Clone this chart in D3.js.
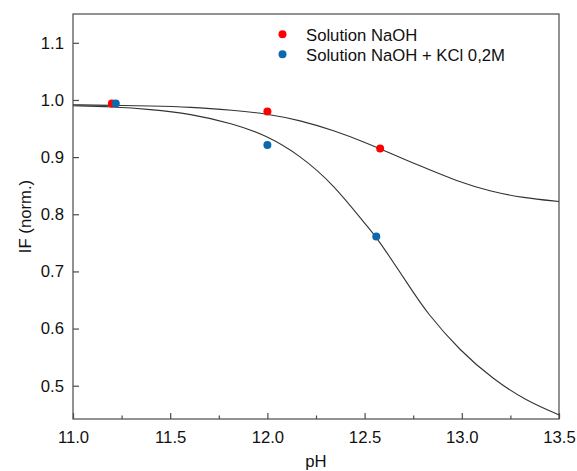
<!DOCTYPE html>
<html>
<head>
<meta charset="utf-8">
<script src="https://cdn.jsdelivr.net/npm/d3@7"></script>
<style>
  html, body { margin: 0; padding: 0; background: #fff; }
  svg { display: block; font-family: "Liberation Sans", Arial, sans-serif; }
</style>
</head>
<body>
<svg id="chart" width="577" height="471"></svg>
<script>
// Measured points
const naohPH = [11.2, 12.0, 12.58];
const naohIF = [0.994, 0.980, 0.915];
const kclPH = [11.22, 12.0, 12.56];
const kclIF = [0.994, 0.921, 0.761];

// Fitted curves
const fitNaohPH = [11.0, 11.2, 11.396, 11.602, 11.825, 11.996, 12.168, 12.339, 12.519, 12.574, 12.8, 12.974, 13.145, 13.316, 13.5];
const fitNaohIF = [0.9915, 0.9905, 0.9895, 0.9877, 0.982, 0.976, 0.9644, 0.947, 0.9235, 0.915, 0.8825, 0.858, 0.840, 0.8288, 0.8223];
const fitKclPH = [11.0, 11.2, 11.396, 11.602, 11.825, 11.996, 12.168, 12.339, 12.519, 12.56, 12.734, 12.819, 12.991, 13.162, 13.334, 13.5];
const fitKclIF = [0.990, 0.988, 0.9837, 0.976, 0.9586, 0.938, 0.903, 0.853, 0.776, 0.761, 0.672, 0.628, 0.561, 0.511, 0.473, 0.449];

const xTicks = [11.0, 11.5, 12.0, 12.5, 13.0, 13.5];
const xMinorTicks = [11.25, 11.75, 12.25, 12.75, 13.25];
const yTicks = [0.5, 0.6, 0.7, 0.8, 0.9, 1.0, 1.1];

const legendLabels = ["Solution NaOH", "Solution NaOH + KCl 0,2M"];
const colors = ["#ff0000", "#0b69ad"];

const svg = d3.select("#chart");
const L = 73, R = 559, T = 14, B = 419;
const x = d3.scaleLinear().domain([11.0, 13.5]).range([L, R]);
const y = d3.scaleLinear().domain([0.4418, 1.1504]).range([B, T]);

const axisColor = "#4a4a4a";

// frame
svg.append("rect").attr("x", L).attr("y", T).attr("width", R - L).attr("height", B - T)
  .attr("fill", "none").attr("stroke", axisColor).attr("stroke-width", 1.2);

// x axis ticks (inward)
const xg = svg.append("g").attr("transform", `translate(0,${B})`);
xg.call(d3.axisBottom(x).tickValues(xTicks).tickSize(-6).tickFormat(d3.format(".1f")).tickPadding(12));
const xm = svg.append("g").attr("transform", `translate(0,${B})`);
xm.call(d3.axisBottom(x).tickValues(xMinorTicks).tickSize(-3.5).tickFormat(""));
[xg, xm].forEach(g => {
  g.select(".domain").remove();
  g.selectAll("line").attr("stroke", axisColor).attr("stroke-width", 1.2);
});
xg.selectAll("text").attr("font-size", 16.7).attr("fill", "#111")
  .attr("font-family", "Liberation Sans, Arial, sans-serif");

// y axis ticks (inward)
const yg = svg.append("g").attr("transform", `translate(${L},0)`);
yg.call(d3.axisLeft(y).tickValues(yTicks).tickSize(-6).tickFormat(d3.format(".1f")).tickPadding(9));
yg.select(".domain").remove();
yg.selectAll("line").attr("stroke", axisColor).attr("stroke-width", 1.2);
yg.selectAll("text").attr("font-size", 16.7).attr("fill", "#111")
  .attr("font-family", "Liberation Sans, Arial, sans-serif");

// axis titles
svg.append("text").attr("x", (L + R) / 2).attr("y", 467).attr("text-anchor", "middle")
  .attr("font-size", 16.7).attr("fill", "#111").text("pH");
svg.append("text").attr("transform", `translate(31,${(T + B) / 2}) rotate(-90)`)
  .attr("text-anchor", "middle").attr("font-size", 16.7).attr("fill", "#111").text("IF (norm.)");

// fitted curves
const line = d3.line().x(d => x(d[0])).y(d => y(d[1])).curve(d3.curveBasis);
const fits = [
  d3.zip(fitNaohPH, fitNaohIF),
  d3.zip(fitKclPH, fitKclIF)
];
svg.append("g").selectAll("path").data(fits).join("path")
  .attr("d", line).attr("fill", "none").attr("stroke", "#333").attr("stroke-width", 1.1);

// points
const series = [d3.zip(naohPH, naohIF), d3.zip(kclPH, kclIF)];
series.forEach((s, i) => {
  svg.append("g").selectAll("circle").data(s).join("circle")
    .attr("cx", d => x(d[0])).attr("cy", d => y(d[1])).attr("r", 4)
    .attr("fill", colors[i]);
});

// legend
const lg = svg.append("g");
legendLabels.forEach((lab, i) => {
  lg.append("circle").attr("cx", 282.5).attr("cy", 34.3 + i * 20).attr("r", 4).attr("fill", colors[i]);
  lg.append("text").attr("x", 306).attr("y", 40.5 + i * 20).attr("font-size", 16.7)
    .attr("fill", "#111").text(lab);
});
</script>
</body>
</html>
